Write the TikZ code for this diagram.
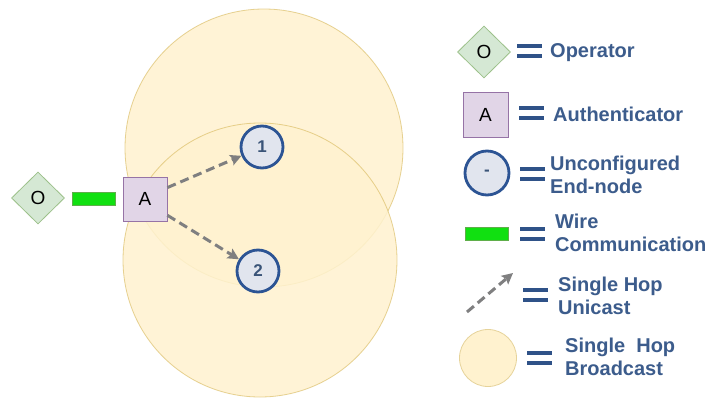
\documentclass[tikz,border=0pt]{standalone}
\usepackage{fontspec}
\setmainfont{Liberation Sans}
\usetikzlibrary{shapes.geometric,arrows.meta,calc}
\definecolor{bcfill}{HTML}{FFF2CF}
\definecolor{bcdraw}{HTML}{D6B656}
\definecolor{opfill}{HTML}{D5E8D4}
\definecolor{opdraw}{HTML}{9CC18A}
\definecolor{aufill}{HTML}{E1D5E7}
\definecolor{audraw}{HTML}{9673A6}
\definecolor{endfill}{HTML}{E1E5EE}
\definecolor{enddraw}{HTML}{2C5494}
\definecolor{endtext}{HTML}{3A5478}
\definecolor{wirefill}{HTML}{11E011}
\definecolor{wiredraw}{HTML}{5FAE4A}
\definecolor{arrcol}{HTML}{7F7F80}
\definecolor{legtext}{HTML}{3C5C8C}
\definecolor{eqcol}{HTML}{2F5288}
\begin{document}
\begin{tikzpicture}[x=1pt,y=-1pt,
 bcast/.style={fill=bcfill, fill opacity=0.85, draw=bcdraw, draw opacity=0.6, line width=0.8pt},
 opbox/.style={shape=diamond, fill=opfill, draw=opdraw, line width=0.8pt, minimum width=53pt, minimum height=52pt, inner sep=0pt, font=\fontsize{19}{19}\selectfont},
 aubox/.style={rectangle, fill=aufill, draw=audraw, line width=0.9pt, minimum size=44pt, inner sep=0pt, font=\fontsize{19}{19}\selectfont},
 endnode/.style={circle, fill=endfill, draw=enddraw, line width=2.8pt, minimum size=42pt, inner sep=0pt, text=endtext, font=\fontsize{17}{17}\selectfont\bfseries},
 wirebox/.style={rectangle, fill=wirefill, draw=wiredraw, line width=0.8pt, minimum width=43pt, minimum height=13pt, inner sep=0pt},
 unicast/.style={draw=arrcol, line width=3pt, dash pattern=on 9pt off 5pt, -{Stealth[length=11pt,width=11pt,inset=2pt]}},
 legtxt/.style={anchor=west, align=left, inner sep=0pt, text=legtext, font=\fontsize{20}{23}\selectfont\bfseries},
 eqs/.pic={\fill[eqcol] (0,-7) rectangle (25,-3); \fill[eqcol] (0,3) rectangle (25,7);}
]
\fill[white] (0,0) rectangle (713,399);
\useasboundingbox (0,0) rectangle (713,399);

% broadcast ranges
\path[bcast] (264,148) circle[radius=139];
\path[bcast] (260,260) circle[radius=137];

% network
\node[opbox] (op) at (38,198) {O};
\node[wirebox] (wire) at (93.5,198.5) {};
\node[aubox] (au) at (145,199) {A};
\node[endnode] (n1) at (262,147) {1};
\node[endnode] (n2) at (258,271) {2};
\draw[unicast] (au.27) -- (n1);
\draw[unicast] (au.-36) -- (n2);

% legend
\node[opbox] (lop) at (484,52) {O};
\pic at (517,50.5) {eqs};
\node[legtxt] (top) at (550,53) {Operator};

\node[aubox, minimum size=45pt] (lau) at (485.5,114.5) {A};
\pic at (519,112.5) {eqs};
\node[legtxt] (tau) at (553,114) {Authenticator};

\node[endnode, minimum size=44pt] (lend) at (487,173) {-};
\pic at (520,173.5) {eqs};
\node[legtxt] (tend) at (550,175) {Unconfigured\\End-node};

\node[wirebox] (lwire) at (486.5,234) {};
\pic at (520,234) {eqs};
\node[legtxt] (twire) at (555,233) {Wire\\Communication};

\coordinate (ua) at (467,312);
\coordinate (ub) at (513,273);
\draw[unicast] (ua) -- (ub);
\pic at (523,294.5) {eqs};
\node[legtxt] (tuni) at (558,296) {Single Hop\\Unicast};

\node[circle, fill=bcfill, draw=bcdraw!60, line width=0.8pt, minimum size=57pt, inner sep=0pt] (lbc) at (488,358) {};
\pic at (527,357.5) {eqs};
\node[legtxt] (tbc) at (565,357) {Single\ \ Hop\\Broadcast};
\end{tikzpicture}
\end{document}
